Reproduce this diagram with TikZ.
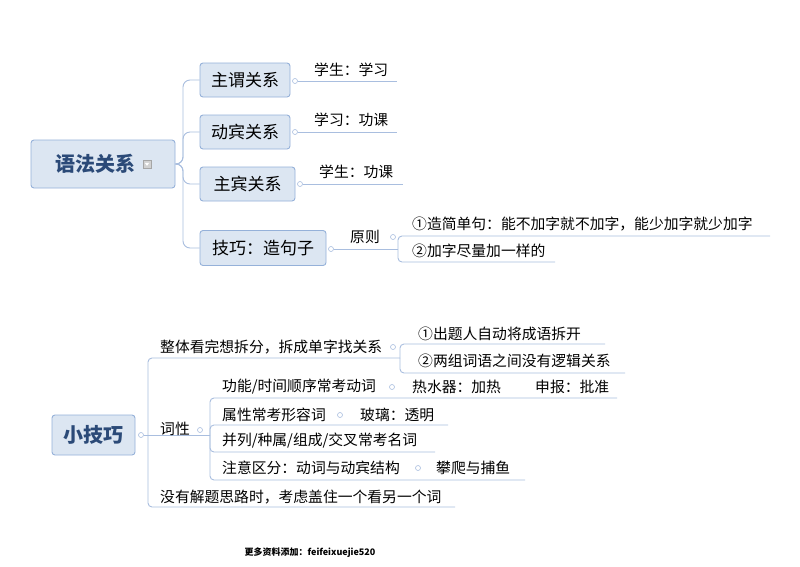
\documentclass[tikz,border=0pt]{standalone}
\usepackage{fontspec}
\usetikzlibrary{calc}
\setmainfont{Noto Sans CJK SC}
\begin{document}
\begin{tikzpicture}[x=1pt,y=-1pt,
  conn/.style={draw=lineblue,line width=0.9pt},
  box/.style={draw=boxline,fill=boxfill,rounded corners=3pt,line width=0.9pt,inner sep=0pt,font=\fontsize{17}{17}\selectfont,text=black},
  rootbox/.style={box,font=\fontsize{20}{20}\selectfont\bfseries,text=rootblue},
  lbl/.style={inner sep=0pt,font=\fontsize{14.8}{15}\selectfont,anchor=west,text=black},
  knob/.style={circle,draw=lineblue,fill=white,inner sep=0pt,minimum size=5pt,line width=0.6pt}]
\definecolor{lineblue}{HTML}{A9BEDF}
\definecolor{boxline}{HTML}{95B1D9}
\definecolor{boxfill}{HTML}{DCE6F2}
\definecolor{rootblue}{HTML}{2B4A78}
\useasboundingbox[fill=white] (0,0) rectangle (800,566);

% ---------- top tree ----------
\node[rootbox,minimum width=144pt,minimum height=48pt] (r1) at (103,164) {\hspace*{-16pt}语法关系};
\node[draw=gray!70,fill=gray!35,minimum size=8pt,inner sep=0pt] (ic) at (147,164) {};
\fill[white] ($(ic.center)+(-2.2,-1.2)$) -- ++(4.4,0) -- ($(ic.center)+(0,1.8)$) -- cycle;
\node[box,minimum width=90pt,minimum height=34pt] (b1) at (245,80) {主谓关系};
\node[box,minimum width=90pt,minimum height=34pt] (b2) at (245,132) {动宾关系};
\node[box,minimum width=95pt,minimum height=34pt] (b3) at (247.5,184) {主宾关系};
\node[box,minimum width=126pt,minimum height=35pt] (b4) at (263,248) {技巧：造句子};
\coordinate (t1) at (183,164);
\foreach \b in {b1,b2,b3,b4}{\draw[conn,rounded corners=7pt] (r1.east) -- (t1) |- (\b.west);}

\node[knob] (k1) at (295,81) {};
\draw[conn] (k1) -- (397,81) coordinate (e1);
\node[lbl] (l1) at (314,70) {学生：学习};
\node[knob] (k2) at (295,132) {};
\draw[conn] (k2) -- (397,132) coordinate (e2);
\node[lbl] (l2) at (314,120) {学习：功课};
\node[knob] (k3) at (300,184) {};
\draw[conn] (k3) -- (403,184) coordinate (e3);
\node[lbl] (l3) at (319,172) {学生：功课};
\node[knob] (k4) at (331,249) {};
\node[lbl] (l4) at (350,237) {原则};
\node[knob] (k5) at (393,237) {};
\coordinate (t2) at (398,249);
\draw[conn] (k4) -- (t2);
\draw[conn,rounded corners=4pt] (t2) |- (770,236) coordinate (e4);
\draw[conn,rounded corners=4pt] (t2) |- (555,262) coordinate (e5);
\node[lbl] (l5) at (412,224) {①造简单句：能不加字就不加字，能少加字就少加字};
\node[lbl] (l6) at (412,251) {②加字尽量加一样的};

% ---------- bottom tree ----------
\node[rootbox,minimum width=83pt,minimum height=40pt] (r2) at (93.5,435) {小技巧};
\node[knob] (k6) at (141,435) {};
\coordinate (t3) at (148,435);
\draw[conn] (k6) -- (t3);
\draw[conn,rounded corners=4pt] (t3) |- (400,358) coordinate (f1);
\draw[conn,rounded corners=4pt] (t3) |- (455,507) coordinate (f3);
\draw[conn] (t3) -- (210,435) coordinate (t4);
\node[lbl] (m1) at (160,347) {整体看完想拆分，拆成单字找关系};
\node[knob] (k7) at (393,347) {};
\coordinate (t5) at (400,358);
\draw[conn,rounded corners=4pt] (t5) |- (605,344) coordinate (f4);
\draw[conn,rounded corners=4pt] (t5) |- (625,373) coordinate (f5);
\node[lbl] (m2) at (418,334) {①出题人自动将成语拆开};
\node[lbl] (m3) at (418,361) {②两组词语之间没有逻辑关系};
\node[lbl] (m4) at (160,429) {词性};
\node[knob] (k8) at (200,430) {};
\node[lbl] (m5) at (160,497) {没有解题思路时，考虑盖住一个看另一个词};

\draw[conn,rounded corners=4pt] (t4) |- (617,398) coordinate (g1);
\draw[conn,rounded corners=4pt] (t4) |- (448,425) coordinate (g2);
\draw[conn,rounded corners=4pt] (t4) |- (435,452) coordinate (g3);
\draw[conn,rounded corners=4pt] (t4) |- (525,480) coordinate (g4);
\node[lbl] (n1) at (222,387) {功能/时间顺序常考动词};
\node[knob] (k9) at (392,387) {};
\node[lbl] (n2) at (412,387) {热水器：加热};
\node[lbl] (n3) at (535,387) {申报：批准};
\node[lbl] (n4) at (222,415) {属性常考形容词};
\node[knob] (k10) at (340,415) {};
\node[lbl] (n5) at (360,415) {玻璃：透明};
\node[lbl] (n6) at (222,441) {并列/种属/组成/交叉常考名词};
\node[lbl] (n7) at (222,468) {注意区分：动词与动宾结构};
\node[knob] (k11) at (418,468) {};
\node[lbl] (n8) at (436,468) {攀爬与捕鱼};

\node[inner sep=0pt,font=\fontsize{9}{9}\selectfont\bfseries] (ft) at (310,553) {更多资料添加：feifeixuejie520};
\end{tikzpicture}
\end{document}
